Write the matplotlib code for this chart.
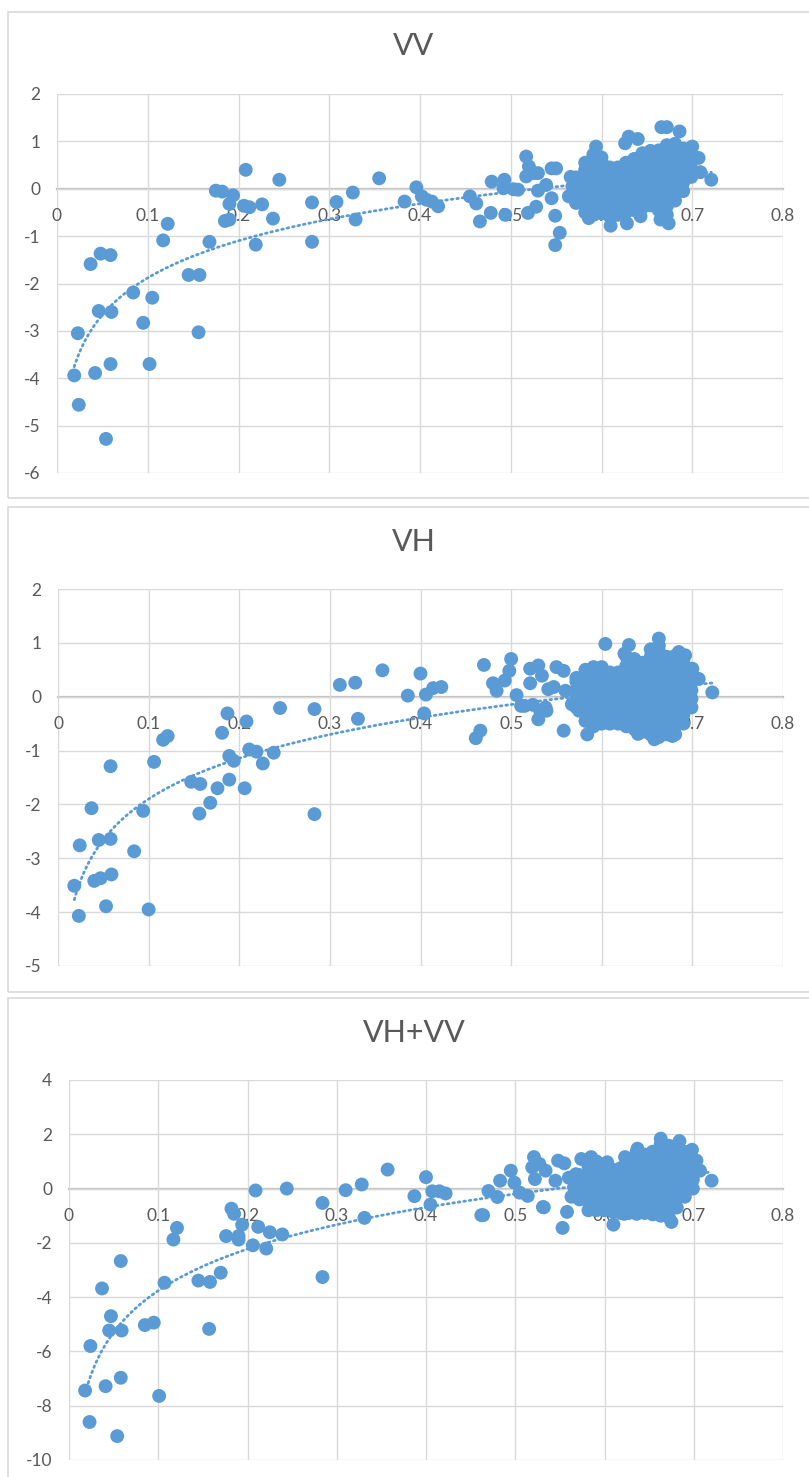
import numpy as np
import matplotlib.pyplot as plt
from matplotlib.patches import Rectangle

plt.rcParams['font.family'] = ['Lato', 'DejaVu Sans']

# ---- VV ----
vv_x = [0.208, 0.245, 0.175, 0.182, 0.194, 0.190, 0.206, 0.212, 0.226, 0.238, 0.185, 0.190,
        0.122, 0.117, 0.168, 0.219, 0.048, 0.059, 0.037, 0.145, 0.157, 0.084, 0.105, 0.046,
        0.060, 0.095, 0.023, 0.156, 0.059, 0.102, 0.019, 0.042, 0.024, 0.054,
        0.281, 0.308, 0.326, 0.329, 0.281, 0.355, 0.383, 0.396, 0.402, 0.407, 0.413, 0.420,
        0.455, 0.462, 0.466, 0.479, 0.478, 0.493, 0.492, 0.503, 0.508, 0.494, 0.517, 0.520,
        0.517, 0.525, 0.530, 0.519, 0.528, 0.530, 0.539, 0.545, 0.550, 0.545, 0.549, 0.554,
        0.549, 0.564, 0.568, 0.566, 0.610, 0.628, 0.643, 0.665, 0.674, 0.586, 0.666, 0.672,
        0.686, 0.630, 0.640, 0.626, 0.594, 0.700, 0.707, 0.709, 0.721]
vv_y = [0.40, 0.19, -0.04, -0.06, -0.14, -0.32, -0.36, -0.39, -0.33, -0.63, -0.68, -0.65,
        -0.74, -1.09, -1.12, -1.18, -1.37, -1.40, -1.59, -1.82, -1.82, -2.19, -2.30, -2.58,
        -2.60, -2.83, -3.05, -3.03, -3.70, -3.70, -3.94, -3.89, -4.56, -5.28,
        -0.29, -0.28, -0.08, -0.65, -1.12, 0.22, -0.27, 0.03, -0.16, -0.23, -0.27, -0.37,
        -0.16, -0.31, -0.69, 0.15, -0.51, 0.19, 0.01, -0.01, -0.02, -0.55, 0.68, 0.47,
        0.26, 0.33, 0.33, -0.51, -0.38, -0.04, 0.08, 0.43, 0.43, -0.20, -0.57, -0.93,
        -1.19, -0.16, 0.05, 0.25, -0.78, -0.73, -0.58, -0.65, -0.73, -0.62, 1.30, 1.30,
        1.21, 1.10, 1.05, 0.96, 0.89, 0.89, 0.65, 0.35, 0.19]
vv_cluster_x = [0.572, 0.582, 0.591, 0.600, 0.609, 0.618, 0.627, 0.636, 0.645, 0.654,
                0.663, 0.672, 0.681, 0.690, 0.699]
vv_cluster_y = [
    [-0.30, -0.12, 0.06, 0.24],
    [-0.50, -0.32, -0.14, 0.04, 0.22, 0.40, 0.55],
    [-0.55, -0.37, -0.19, -0.01, 0.17, 0.35, 0.53, 0.72],
    [-0.52, -0.34, -0.16, 0.02, 0.20, 0.38, 0.56, 0.66],
    [-0.58, -0.40, -0.22, -0.04, 0.14, 0.32, 0.45],
    [-0.55, -0.37, -0.19, -0.01, 0.17, 0.35, 0.45],
    [-0.50, -0.32, -0.14, 0.04, 0.22, 0.40, 0.55],
    [-0.45, -0.27, -0.09, 0.09, 0.27, 0.45, 0.63],
    [-0.40, -0.22, -0.04, 0.14, 0.32, 0.50, 0.68, 0.75],
    [-0.35, -0.17, 0.01, 0.19, 0.37, 0.55, 0.73, 0.80],
    [-0.45, -0.27, -0.09, 0.09, 0.27, 0.45, 0.63, 0.81],
    [-0.55, -0.37, -0.19, -0.01, 0.17, 0.35, 0.53, 0.71, 0.92],
    [-0.25, -0.07, 0.11, 0.29, 0.47, 0.65, 0.83, 0.95],
    [-0.05, 0.13, 0.31, 0.49, 0.67, 0.85],
    [0.25, 0.43, 0.61, 0.70],
]

# ---- VH ----
vh_x = [0.358, 0.400, 0.311, 0.328, 0.386, 0.406, 0.414, 0.423, 0.404, 0.331, 0.245, 0.283,
        0.187, 0.208, 0.181, 0.116, 0.121, 0.106, 0.211, 0.219, 0.238, 0.189, 0.194, 0.226,
        0.058, 0.147, 0.157, 0.189, 0.176, 0.206, 0.168, 0.156, 0.283, 0.094, 0.037, 0.024,
        0.045, 0.058, 0.084, 0.040, 0.047, 0.059, 0.018, 0.053, 0.100, 0.023,
        0.470, 0.500, 0.498, 0.480, 0.484, 0.493, 0.506, 0.511, 0.461, 0.466, 0.521, 0.530,
        0.534, 0.521, 0.524, 0.532, 0.530, 0.539, 0.550, 0.558, 0.541, 0.558,
        0.547, 0.560, 0.567, 0.575, 0.538, 0.515,
        0.604, 0.663, 0.630, 0.625, 0.685, 0.692, 0.700, 0.707, 0.722, 0.658, 0.678, 0.640,
        0.584]
vh_y = [0.49, 0.43, 0.22, 0.26, 0.02, 0.04, 0.16, 0.18, -0.31, -0.41, -0.21, -0.23,
        -0.31, -0.46, -0.67, -0.80, -0.73, -1.21, -0.98, -1.02, -1.04, -1.10, -1.19, -1.24,
        -1.29, -1.58, -1.62, -1.54, -1.70, -1.70, -1.97, -2.17, -2.18, -2.12, -2.07, -2.76,
        -2.66, -2.64, -2.87, -3.42, -3.37, -3.30, -3.51, -3.89, -3.95, -4.07,
        0.59, 0.70, 0.48, 0.25, 0.11, 0.30, 0.03, -0.17, -0.77, -0.63, 0.52, 0.58,
        0.39, 0.25, -0.15, -0.26, -0.42, -0.26, 0.55, 0.48, 0.14, -0.63,
        0.18, 0.11, -0.14, -0.26, -0.20, -0.17,
        0.98, 1.08, 0.96, 0.80, 0.83, 0.77, 0.52, 0.33, 0.08, -0.79, -0.73, -0.69,
        -0.70]
vh_cluster_x = vv_cluster_x
vh_cluster_y = [
    [-0.20, -0.04, 0.12, 0.28, 0.35],
    [-0.45, -0.29, -0.13, 0.03, 0.19, 0.35, 0.50],
    [-0.55, -0.39, -0.23, -0.07, 0.09, 0.25, 0.41, 0.55],
    [-0.50, -0.34, -0.18, -0.02, 0.14, 0.30, 0.46, 0.55],
    [-0.50, -0.34, -0.18, -0.02, 0.14, 0.30, 0.45],
    [-0.50, -0.34, -0.18, -0.02, 0.14, 0.30, 0.45],
    [-0.55, -0.39, -0.23, -0.07, 0.09, 0.25, 0.41, 0.57, 0.75],
    [-0.60, -0.44, -0.28, -0.12, 0.04, 0.20, 0.36, 0.52, 0.70],
    [-0.65, -0.49, -0.33, -0.17, -0.01, 0.15, 0.31, 0.47, 0.63],
    [-0.70, -0.54, -0.38, -0.22, -0.06, 0.10, 0.26, 0.42, 0.58, 0.74, 0.88],
    [-0.75, -0.59, -0.43, -0.27, -0.11, 0.05, 0.21, 0.37, 0.53, 0.69, 0.85, 0.95],
    [-0.70, -0.54, -0.38, -0.22, -0.06, 0.10, 0.26, 0.42, 0.58, 0.74],
    [-0.70, -0.54, -0.38, -0.22, -0.06, 0.10, 0.26, 0.42, 0.58, 0.76],
    [-0.50, -0.34, -0.18, -0.02, 0.14, 0.30, 0.46, 0.65],
    [-0.20, -0.04, 0.12, 0.28, 0.45],
]

# ---- VH+VV ----
sum_x = [0.357, 0.400, 0.328, 0.310, 0.244, 0.209, 0.387, 0.407, 0.415, 0.422, 0.405, 0.284,
         0.331, 0.182, 0.185, 0.194, 0.212, 0.225, 0.239, 0.176, 0.190, 0.190, 0.206, 0.221,
         0.121, 0.117, 0.058, 0.037, 0.107, 0.145, 0.158, 0.170, 0.284, 0.047, 0.045, 0.059,
         0.085, 0.095, 0.157, 0.024, 0.018, 0.041, 0.058, 0.101, 0.023, 0.054,
         0.470, 0.480, 0.483, 0.495, 0.499, 0.462, 0.464, 0.521, 0.519, 0.527, 0.534, 0.522,
         0.531, 0.505, 0.514, 0.548, 0.555, 0.545, 0.568, 0.553, 0.558, 0.532,
         0.563, 0.566, 0.560,
         0.663, 0.684, 0.698, 0.703, 0.707, 0.720, 0.637, 0.623, 0.574, 0.585, 0.603,
         0.622, 0.636, 0.663, 0.675, 0.678, 0.610]
sum_y = [0.70, 0.42, 0.15, -0.06, 0.00, -0.07, -0.28, -0.10, -0.10, -0.18, -0.59, -0.53,
         -1.08, -0.74, -0.93, -1.33, -1.41, -1.61, -1.69, -1.75, -1.75, -1.88, -2.09, -2.21,
         -1.45, -1.88, -2.67, -3.68, -3.47, -3.39, -3.44, -3.10, -3.26, -4.70, -5.23, -5.23,
         -5.03, -4.94, -5.17, -5.80, -7.44, -7.28, -6.97, -7.64, -8.60, -9.12,
         -0.09, -0.31, 0.29, 0.66, 0.22, -0.98, -0.98, 1.16, 0.78, 0.91, 0.66, 0.35,
         -0.68, -0.15, -0.27, 1.03, 0.93, 0.29, 0.53, -1.45, -0.86, -0.69,
         -0.30, 0.05, 0.40,
         1.84, 1.75, 1.43, 1.03, 0.66, 0.29, 1.47, 1.16, 1.09, 1.16, 0.97,
         -0.93, -0.93, -0.96, -1.23, -0.58, -1.33]
sum_cluster_x = vv_cluster_x
sum_cluster_y = [
    [-0.40, -0.07, 0.26, 0.50],
    [-0.80, -0.47, -0.14, 0.19, 0.52, 0.85, 1.00],
    [-0.80, -0.47, -0.14, 0.19, 0.52, 0.85, 1.00],
    [-0.80, -0.47, -0.14, 0.19, 0.52, 0.85],
    [-0.85, -0.52, -0.19, 0.14, 0.47, 0.70],
    [-0.90, -0.57, -0.24, 0.09, 0.42, 0.75],
    [-0.90, -0.57, -0.24, 0.09, 0.42, 0.75, 1.08],
    [-0.90, -0.57, -0.24, 0.09, 0.42, 0.75, 1.08, 1.35],
    [-0.90, -0.57, -0.24, 0.09, 0.42, 0.75, 1.08, 1.25],
    [-0.95, -0.62, -0.29, 0.04, 0.37, 0.70, 1.03, 1.36],
    [-1.00, -0.67, -0.34, -0.01, 0.32, 0.65, 0.98, 1.31, 1.64],
    [-1.05, -0.72, -0.39, -0.06, 0.27, 0.60, 0.93, 1.26, 1.58],
    [-0.70, -0.37, -0.04, 0.29, 0.62, 0.95, 1.28, 1.55],
    [-0.30, 0.03, 0.36, 0.69, 1.02, 1.35],
    [0.00, 0.33, 0.66, 1.00],
]

x_ticks = [0, 0.1, 0.2, 0.3, 0.4, 0.5, 0.6, 0.7, 0.8]
x_labels = ['0', '0.1', '0.2', '0.3', '0.4', '0.5', '0.6', '0.7', '0.8']

BLUE = '#5B9BD5'
GRID = '#D9D9D9'
TEXT = '#595959'
W, H = 809, 1477

fig = plt.figure(figsize=(W / 100, H / 100), dpi=100)

panels = [
    # title, xs, ys, cluster x, cluster y, y ticks, axes px (l, r, t, b), title y, box (top, bottom)
    ('VV', vv_x, vv_y, vv_cluster_x, vv_cluster_y, list(range(-6, 3)), (57, 783, 94, 473), 46, (12, 498)),
    ('VH', vh_x, vh_y, vh_cluster_x, vh_cluster_y, list(range(-5, 3)), (58, 783, 589, 966), 542, (507, 992)),
    ('VH+VV', sum_x, sum_y, sum_cluster_x, sum_cluster_y, list(range(-10, 5, 2)), (69, 783, 1080, 1460), 1033, (998, 1485)),
]

for title, xs, ys, cx, cy, yt, (l, r, t, b), ty, (bt, bb) in panels:
    fig.patches.append(Rectangle((8 / W, 1 - bb / H), (W - 4) / W, (bb - bt) / H,
                                 transform=fig.transFigure, facecolor='none',
                                 edgecolor=GRID, lw=1.2, zorder=-1))
    fig.text(414 / W, 1 - ty / H, title, ha='center', va='center',
             fontsize=22, color=TEXT)

    ax = fig.add_axes([l / W, 1 - b / H, (r - l) / W, (b - t) / H])
    ax.set_facecolor('none')

    allx = list(xs)
    ally = list(ys)
    for x0, col in zip(cx, cy):
        for y0 in col:
            allx.append(x0)
            ally.append(y0)
    allx = np.array(allx)
    ally = np.array(ally)

    # logarithmic trendline like Excel
    a, c = np.polyfit(np.log(allx), ally, 1)
    tx = np.linspace(allx.min(), allx.max(), 300)
    ax.plot(tx, a * np.log(tx) + c, color=BLUE, lw=2.0, linestyle=(0, (0.6, 1.4)),
            dash_capstyle='round', zorder=1)

    ax.scatter(allx, ally, s=100, color=BLUE, edgecolors='none', zorder=2)

    ax.set_xlim(0, 0.8)
    ax.set_ylim(yt[0], yt[-1])
    ax.set_xticks(x_ticks)
    ax.set_xticklabels(x_labels)
    ax.set_yticks(yt)
    ax.set_yticklabels([str(v) for v in yt])
    ax.grid(True, color=GRID, lw=1.0, zorder=0)
    ax.set_axisbelow(True)
    for s in ['top', 'right', 'left']:
        ax.spines[s].set_visible(False)
    ax.spines['bottom'].set_position(('data', 0))
    ax.spines['bottom'].set_color('#BFBFBF')
    ax.spines['bottom'].set_linewidth(1.6)
    ax.spines['bottom'].set_zorder(0.5)
    ax.tick_params(axis='x', length=0, pad=14, labelsize=12.5, labelcolor=TEXT)
    ax.tick_params(axis='y', length=0, pad=12, labelsize=12.5, labelcolor=TEXT)

fig.savefig('out.png', dpi=100)
